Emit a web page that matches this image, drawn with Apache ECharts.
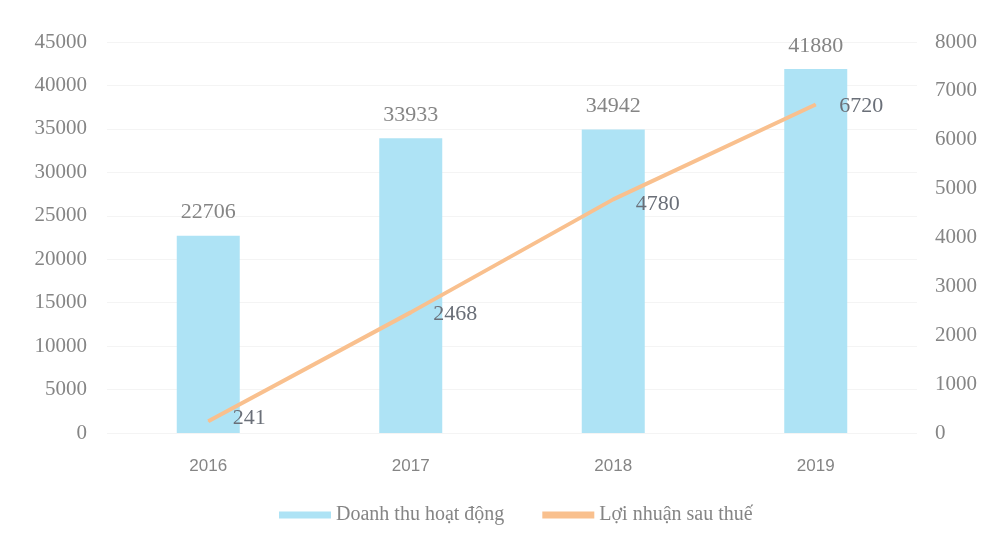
<!DOCTYPE html>
<html><head><meta charset="utf-8">
<script src="https://cdn.jsdelivr.net/npm/echarts@6/dist/echarts.min.js"></script>
<style>html,body{margin:0;padding:0;background:#fff}#c{width:994px;height:548px}</style>
</head><body><div id="c"></div>
<script>
const categories = ['2016', '2017', '2018', '2019'];
const revenue = [22706, 33933, 34942, 41880];
const profit = [241, 2468, 4780, 6720];
const leftTicks = [0, 5000, 10000, 15000, 20000, 25000, 30000, 35000, 40000, 45000];
const rightTicks = [0, 1000, 2000, 3000, 4000, 5000, 6000, 7000, 8000];
const seriesNames = ['Doanh thu hoạt động', 'Lợi nhuận sau thuế'];

const serif = 'Liberation Serif';
const gray = '#858585';
const lineLabelOffsets = [[19, -3], [17, 2], [17, 5], [18, 2]];

const chart = echarts.init(document.getElementById('c'));
chart.setOption({
  animation: false,
  backgroundColor: '#fff',
  grid: { left: 107, right: 77, top: 42, bottom: 115, containLabel: false },
  legend: {
    bottom: 18, left: 274, itemGap: 38, itemWidth: 52, itemHeight: 7,
    textStyle: { fontFamily: serif, fontSize: 20, color: gray },
    data: [
      { name: seriesNames[0], icon: 'rect' },
      { name: seriesNames[1], icon: 'rect', itemStyle: { color: '#f9c08e' } }
    ]
  },
  xAxis: {
    type: 'category', data: categories,
    axisLine: { show: false }, axisTick: { show: false },
    axisLabel: { fontFamily: 'Liberation Sans', fontSize: 17, color: gray, margin: 25 }
  },
  yAxis: [
    {
      type: 'value', min: leftTicks[0], max: leftTicks[leftTicks.length - 1], interval: 5000,
      axisLine: { show: false }, axisTick: { show: false },
      splitLine: { lineStyle: { color: '#f4f4f4' } },
      axisLabel: { fontFamily: serif, fontSize: 21, color: gray, margin: 20, formatter: v => String(v) }
    },
    {
      type: 'value', min: rightTicks[0], max: rightTicks[rightTicks.length - 1], interval: 1000,
      axisLine: { show: false }, axisTick: { show: false }, splitLine: { show: false },
      axisLabel: { fontFamily: serif, fontSize: 21, color: gray, margin: 18, formatter: v => String(v) }
    }
  ],
  series: [
    {
      name: seriesNames[0], type: 'bar', data: revenue, barWidth: 63,
      itemStyle: { color: '#aee3f5' },
      label: { show: true, position: 'top', distance: 12, fontFamily: serif, fontSize: 22, color: gray }
    },
    {
      name: seriesNames[1], type: 'line', yAxisIndex: 1,
      data: profit.map((v, i) => ({ value: v, label: { offset: lineLabelOffsets[i] } })),
      symbol: 'circle', symbolSize: 1, showSymbol: true,
      lineStyle: { color: '#f9c08e', width: 4 }, itemStyle: { color: '#f9c08e' },
      label: { show: true, position: 'right', distance: 5, fontFamily: serif, fontSize: 22, color: '#6a6f78' }
    }
  ]
});
</script></body></html>
